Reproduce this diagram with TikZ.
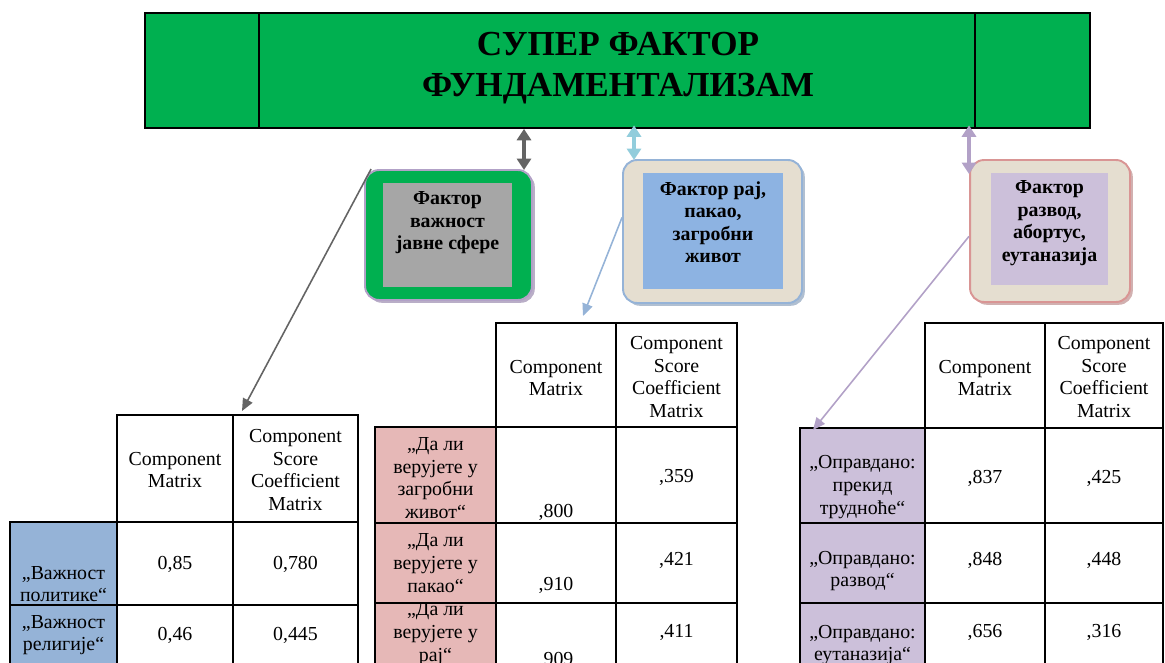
\documentclass[tikz,border=0pt]{standalone}
\usepackage{fontspec}
\setmainfont{Liberation Serif}
\usetikzlibrary{arrows.meta, shadows, positioning}
\definecolor{BannerGreen}{RGB}{0,176,80}
\definecolor{FactorGray}{RGB}{166,166,166}
\definecolor{FactorBlue}{RGB}{141,179,226}
\definecolor{FactorLilac}{RGB}{204,192,218}
\definecolor{ParchBeige}{RGB}{229,222,208}
\definecolor{EdgeBlue}{RGB}{149,179,215}
\definecolor{EdgeRose}{RGB}{217,149,148}
\definecolor{EdgeLilac}{RGB}{178,161,199}
\definecolor{ArrowGray}{RGB}{100,100,100}
\definecolor{ArrowCyan}{RGB}{146,205,220}
\definecolor{CellBlue}{RGB}{149,179,215}
\definecolor{CellRose}{RGB}{230,184,183}
\definecolor{CellLilac}{RGB}{204,192,218}

\begin{document}
\begin{tikzpicture}[x=0.02cm, y=-0.02cm, font=\fontsize{11.3}{12.9}\selectfont,
	cell/.style={align=center, inner sep=0pt},
	facttext/.style={align=center, inner sep=0pt, font=\fontsize{11.3}{12.8}\selectfont\bfseries},
	card/.style={rounded corners=8pt, line width=1.1pt},
	panel/.style={inner sep=0pt},
	gridline/.style={line width=1.3pt, line cap=rect},
	link/.style={line width=0.9pt, -{Triangle[length=7pt, width=6pt]}},
	twoway/.style={line width=1.8pt, {Triangle[length=6.5pt, width=8pt]}-{Triangle[length=6.5pt, width=8pt]}}]
	\useasboundingbox (0,0) rectangle (1165,662);
	\clip (0,0) rectangle (1165,662);

	% super factor banner
	\node[draw=black, line width=1pt, fill=BannerGreen, minimum width=18.9cm, minimum height=2.3cm,
		inner sep=0pt] (super) at (617.5,70.5) {};
	\draw[line width=1pt] (259,13) -- (259,128);
	\draw[line width=1pt] (975,13) -- (975,128);
	\node[align=center, inner sep=0pt, font=\fontsize{20}{23.2}\selectfont\bfseries] (title) at (618,68)
		{СУПЕР ФАКТОР\\ФУНДАМЕНТАЛИЗАМ};

	% factor cards
	\node[card, panel, fill=BannerGreen, draw=EdgeLilac, minimum width=3.34cm, minimum height=2.6cm,
		drop shadow={shadow xshift=1.6pt, shadow yshift=-1.6pt, fill=EdgeLilac!80!gray, opacity=0.8}]
		(cardA) at (448.5,235) {};
	\node[panel, fill=FactorGray, minimum width=2.58cm, minimum height=2.08cm] (boxA) at (447.5,235) {};
	\node[facttext] (factA) at (447.5,223) {Фактор\\важност\\јавне сфере};

	\node[card, panel, fill=ParchBeige, draw=EdgeBlue, minimum width=3.58cm, minimum height=2.86cm,
		drop shadow={shadow xshift=1.6pt, shadow yshift=-1.6pt, fill=EdgeBlue!70!gray, opacity=0.7}]
		(cardB) at (712.5,231.5) {};
	\node[panel, fill=FactorBlue, minimum width=2.8cm, minimum height=2.32cm] (boxB) at (713,231) {};
	\node[facttext] (factB) at (713,222) {Фактор рај,\\пакао,\\загробни\\живот};

	\node[card, panel, fill=ParchBeige, draw=EdgeRose, minimum width=3.2cm, minimum height=2.84cm,
		drop shadow={shadow xshift=1.6pt, shadow yshift=-1.6pt, fill=EdgeRose!70!gray, opacity=0.7}]
		(cardC) at (1050,231) {};
	\node[panel, fill=FactorLilac, minimum width=2.34cm, minimum height=2.24cm] (boxC) at (1049.5,229) {};
	\node[facttext] (factC) at (1049.5,223) {Фактор\\развод,\\абортус,\\еутаназија};

	% banner to cards
	\coordinate (tipA) at (524,170);
	\coordinate (tipB) at (634,160);
	\coordinate (tipC) at (969,174);
	\draw[twoway, ArrowGray] (tipA |- super.south) -- (tipA);
	\draw[twoway, ArrowCyan] ([yshift=2pt]tipB |- super.south) -- (tipB);
	\draw[twoway, EdgeLilac] ([yshift=2pt]tipC |- super.south) -- (tipC);

	% table 1
	\fill[CellBlue] (10,522) rectangle (117,670);
	\draw[gridline] (117,415) rectangle (358,522);
	\draw[gridline] (233,415) -- (233,670);
	\draw[gridline] (10,670) -- (10,522) -- (358,522) -- (358,670);
	\draw[gridline] (117,522) -- (117,670);
	\draw[gridline] (10,605) -- (358,605);
	\node[cell] (t1cm) at (175,470) {Component\\Matrix};
	\node[cell] (t1cs) at (295.5,470) {Component\\Score\\Coefficient\\Matrix};
	\node[cell] (t1l1) at (63.5,584) {„Важност\\политике“};
	\node[cell] (t1a1) at (175,564) {0,85};
	\node[cell] (t1b1) at (295.5,564) {0,780};
	\node[cell] (t1l2) at (63.5,635) {„Важност\\религије“};
	\node[cell] (t1a2) at (175,635) {0,46};
	\node[cell] (t1b2) at (295.5,635) {0,445};

	% table 2
	\fill[CellRose] (375,427) rectangle (496,670);
	\draw[gridline] (496,323) rectangle (737,427);
	\draw[gridline] (616,323) -- (616,670);
	\draw[gridline] (375,670) -- (375,427) -- (737,427) -- (737,670);
	\draw[gridline] (496,427) -- (496,670);
	\foreach \y in {523,603}
		\draw[gridline] (375,\y) -- (737,\y);
	\node[cell] (t2cm) at (556,378) {Component\\Matrix};
	\node[cell] (t2cs) at (676.5,377) {Component\\Score\\Coefficient\\Matrix};
	\node[cell] (t2l1) at (435.5,478) {„Да ли\\верујете у\\загробни\\живот“};
	\node[cell] (t2a1) at (556,512) {,800};
	\node[cell] (t2b1) at (676.5,477) {,359};
	\node[cell] (t2l2) at (435.5,563) {„Да ли\\верујете у\\пакао“};
	\node[cell] (t2a2) at (556,585) {,910};
	\node[cell] (t2b2) at (676.5,560) {,421};
	\node[cell] (t2l3) at (435.5,634) {„Да ли\\верујете у\\рај“};
	\node[cell] (t2a3) at (556,660) {,909};
	\node[cell] (t2b3) at (676.5,632) {,411};

	% table 3
	\fill[CellLilac] (800,428) rectangle (925,670);
	\draw[gridline] (925,323) rectangle (1163,428);
	\draw[gridline] (1045,323) -- (1045,670);
	\draw[gridline] (800,670) -- (800,428) -- (1163,428) -- (1163,670);
	\draw[gridline] (925,428) -- (925,670);
	\foreach \y in {523,603}
		\draw[gridline] (800,\y) -- (1163,\y);
	\node[cell] (t3cm) at (985,378) {Component\\Matrix};
	\node[cell] (t3cs) at (1104,377) {Component\\Score\\Coefficient\\Matrix};
	\node[cell] (t3l1) at (862.5,487) {„Оправдано:\\прекид\\трудноће“};
	\node[cell] (t3a1) at (985,478) {,837};
	\node[cell] (t3b1) at (1104,478) {,425};
	\node[cell] (t3l2) at (862.5,571) {„Оправдано:\\развод“};
	\node[cell] (t3a2) at (985,560) {,848};
	\node[cell] (t3b2) at (1104,560) {,448};
	\node[cell] (t3l3) at (862.5,645) {„Оправдано:\\еутаназија“};
	\node[cell] (t3a3) at (985,632) {,656};
	\node[cell] (t3b3) at (1104,632) {,316};

	% cards to tables
	\coordinate (endA) at (242,411);
	\coordinate (endB) at (583,316);
	\coordinate (endC) at (813,430);
	\draw[link, ArrowGray] ([xshift=4pt]cardA.north west) -- (endA);
	\draw[link, EdgeBlue] ([yshift=8pt]cardB.west) -- (endB);
	\draw[link, EdgeLilac] ([yshift=-3pt]cardC.west) -- (endC);
\end{tikzpicture}
\end{document}
